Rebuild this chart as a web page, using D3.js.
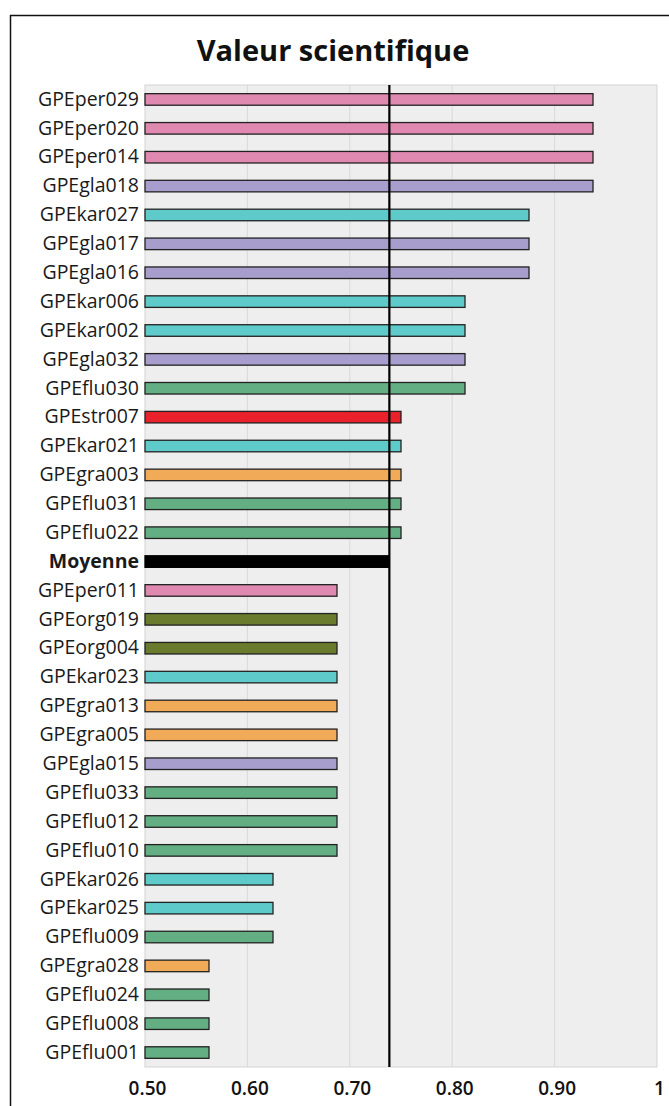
<!DOCTYPE html>
<html>
<head>
<meta charset="utf-8">
<script src="https://cdn.jsdelivr.net/npm/d3@7"></script>
<style>
  html, body { margin: 0; padding: 0; background: #fff; }
  svg { display: block; }
</style>
</head>
<body>
<svg id="chart" width="669" height="1106"></svg>
<script>
// Sites, top to bottom, with their scores and group
const sites = [
  "GPEper029","GPEper020","GPEper014","GPEgla018","GPEkar027","GPEgla017","GPEgla016",
  "GPEkar006","GPEkar002","GPEgla032","GPEflu030","GPEstr007","GPEkar021","GPEgra003",
  "GPEflu031","GPEflu022",
  "GPEper011","GPEorg019","GPEorg004","GPEkar023","GPEgra013","GPEgra005","GPEgla015",
  "GPEflu033","GPEflu012","GPEflu010","GPEkar026","GPEkar025","GPEflu009","GPEgra028",
  "GPEflu024","GPEflu008","GPEflu001"
];
const scores = [
  0.9375,0.9375,0.9375,0.9375,0.875,0.875,0.875,
  0.8125,0.8125,0.8125,0.8125,0.75,0.75,0.75,
  0.75,0.75,
  0.6875,0.6875,0.6875,0.6875,0.6875,0.6875,0.6875,
  0.6875,0.6875,0.6875,0.625,0.625,0.625,0.5625,
  0.5625,0.5625,0.5625
];
const meanLabel = "Moyenne";
const meanAfter = 16; // the mean row sits after this many sites

const groups = ["per","gla","kar","flu","str","gra","org"];
const groupColors = ["#e089b0","#a89ecd","#5ecaca","#64ae83","#e8212b","#f1aa58","#6b7b2d"];

const tickValues = [0.5,0.6,0.7,0.8,0.9,1];
const tickLabels = ["0.50","0.60","0.70","0.80","0.90","1"];
const title = "Valeur scientifique";

// ---- layout ----
const svg = d3.select("#chart");
const plot = { left: 145, right: 657, top: 85, bottom: 1067 };

const meanValue = d3.mean(scores);

const rows = sites.map((s, i) => ({ name: s, value: scores[i], group: s.slice(3, 6) }));
rows.splice(meanAfter, 0, { name: meanLabel, value: meanValue, group: "mean" });

const x = d3.scaleLinear().domain([0.5, 1]).range([plot.left, plot.right]);
const y = d3.scaleBand().domain(rows.map(d => d.name)).range([plot.top, plot.bottom]).paddingInner(0.6).paddingOuter(0.3);
const color = d3.scaleOrdinal().domain(groups).range(groupColors);

// outer frame
svg.append("rect")
  .attr("x", 10.5).attr("y", 15.5).attr("width", 720).attr("height", 1200)
  .attr("fill", "none").attr("stroke", "#111").attr("stroke-width", 1.5);

// title
svg.append("text")
  .attr("x", 333).attr("y", 61)
  .attr("text-anchor", "middle")
  .attr("font-family", "'Open Sans', sans-serif")
  .attr("font-weight", 700)
  .attr("font-size", 29)
  .attr("fill", "#111")
  .text(title);

// plot background
svg.append("rect")
  .attr("x", plot.left).attr("y", plot.top)
  .attr("width", plot.right - plot.left).attr("height", plot.bottom - plot.top)
  .attr("fill", "#eeeeee").attr("stroke", "#d4d4d4").attr("stroke-width", 1);

// vertical grid
svg.append("g")
  .selectAll("line")
  .data(tickValues.slice(1, -1))
  .join("line")
  .attr("x1", d => x(d)).attr("x2", d => x(d))
  .attr("y1", plot.top).attr("y2", plot.bottom)
  .attr("stroke", "#d9d9d9").attr("stroke-width", 1);

// x axis labels
const xAxis = d3.axisBottom(x)
  .tickValues(tickValues)
  .tickSize(0)
  .tickPadding(15)
  .tickFormat((d, i) => tickLabels[i]);
const gx = svg.append("g")
  .attr("transform", `translate(2,${plot.bottom})`)
  .call(xAxis);
gx.select(".domain").remove();
gx.selectAll("text")
  .attr("font-family", "'Open Sans', sans-serif")
  .attr("font-weight", 600)
  .attr("font-size", 19)
  .attr("fill", "#111");

// bars
svg.append("g")
  .selectAll("rect")
  .data(rows)
  .join("rect")
  .attr("x", x(0.5))
  .attr("y", d => y(d.name))
  .attr("width", d => x(d.value) - x(0.5))
  .attr("height", y.bandwidth())
  .attr("fill", d => d.group === "mean" ? "#000" : color(d.group))
  .attr("stroke", d => d.group === "mean" ? "#000" : "#222")
  .attr("stroke-width", 1.3);

// category labels
const yAxis = d3.axisLeft(y).tickSize(0).tickPadding(6);
const gy = svg.append("g")
  .attr("transform", `translate(${plot.left},0)`)
  .call(yAxis);
gy.select(".domain").remove();
gy.selectAll("text")
  .attr("font-family", "'Open Sans', sans-serif")
  .attr("font-size", 19.5)
  .attr("font-weight", d => d === meanLabel ? 700 : 400)
  .attr("fill", "#1a1a1a");

// mean line
svg.append("line")
  .attr("x1", x(meanValue)).attr("x2", x(meanValue))
  .attr("y1", plot.top).attr("y2", plot.bottom)
  .attr("stroke", "#000").attr("stroke-width", 2.2);
</script>
</body>
</html>
